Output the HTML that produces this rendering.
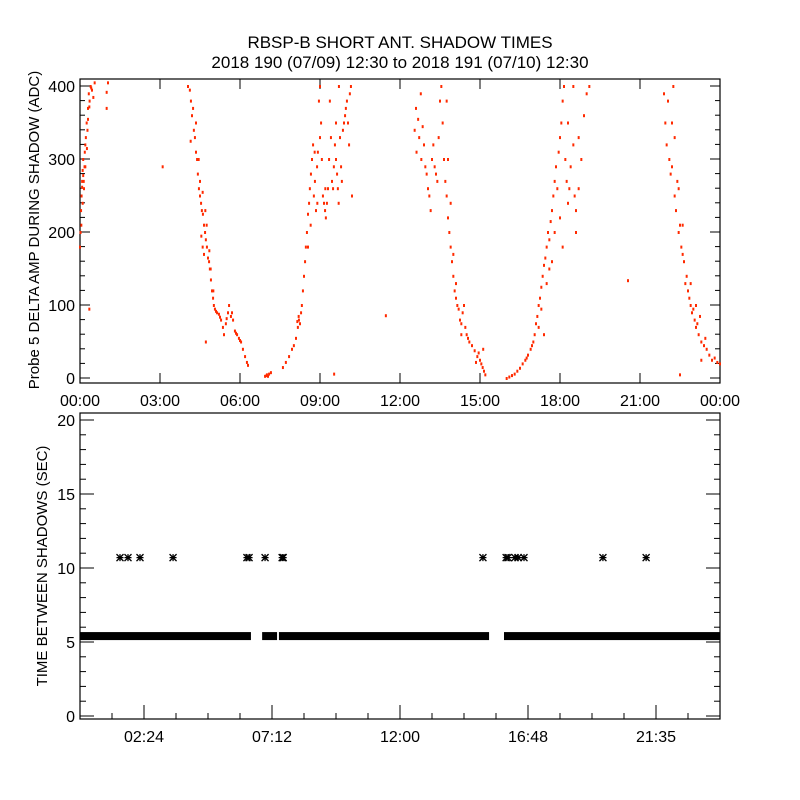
<!DOCTYPE html>
<html><head><meta charset="utf-8"><style>
body{margin:0;background:#fff}
svg{display:block}
text{font-family:"Liberation Sans",sans-serif;fill:#000}
</style></head><body>
<svg id="chart" width="800" height="800" viewBox="0 0 800 800">
<rect width="800" height="800" fill="#fff"/>
<text x="400" y="48" font-size="17" text-anchor="middle">RBSP-B SHORT ANT. SHADOW TIMES</text>
<text x="400" y="68" font-size="17" text-anchor="middle">2018 190 (07/09) 12:30 to 2018 191 (07/10) 12:30</text>
<g id="topPanel"></g>
<g id="botPanel"></g>
</svg>
<script>
// ---- top panel data: [hour, delta amp ADC] ----
const topXTicks = ["00:00","03:00","06:00","09:00","12:00","15:00","18:00","21:00","00:00"];
const topYTicks = [0,100,200,300,400];
const ampPoints = [
[0,180],[0.02,200],[0.04,230],[0.06,250],[0.08,270],[0.1,285],[0.12,300],[0.15,260],[0.18,310],[0.2,290],[0.22,330],[0.25,350],[0.28,340],[0.3,370],[0.33,390],[0.36,380],[0.4,400],[0.45,395],[0.5,385],[0.55,405],[0.05,210],[0.1,240],[0.14,270],[0.17,290],[0.2,320],[0.26,315],[0.3,355],[0.35,372],[0.42,398],[0.08,262],[0.12,278],
[0.35,95],[1.0,392],[1.0,370],[1.05,405],[3.1,290],[4.72,50],[9.53,6],[11.47,86],[20.55,134],[22.5,5],[23.3,25],
[4.05,400],[4.12,395],[4.16,380],[4.2,360],[4.24,370],[4.27,340],[4.31,330],[4.35,310],[4.39,300],[4.42,280],[4.46,260],[4.5,250],[4.54,240],[4.57,230],[4.61,225],[4.65,210],[4.69,200],[4.72,190],[4.76,180],[4.8,165],[4.84,160],[4.87,150],[4.91,135],[4.95,120],[4.99,110],[5.02,100],[5.06,95],[5.14,90],[5.21,88],[5.29,80],[5.36,70],[5.4,60],[5.47,75],[5.55,90],[5.59,100],[5.66,85],[5.74,80],[5.81,65],[5.89,60],[5.96,55],[6.04,50],[6.11,40],[6.19,30],[6.26,22],[6.3,18],
[4.15,325],[4.5,270],[4.6,255],[4.7,230],[4.75,210],[4.55,195],[4.6,180],[4.65,170],[4.85,175],[4.9,150],[5.0,120],[4.35,350],[4.45,300],[5.1,92],[5.25,84],[5.5,82],[5.7,90],[5.85,62],[6.0,52],
[6.94,3],[7.01,5],[7.09,6],[7.16,8],[7.61,15],[7.72,22],[7.84,30],[7.95,40],[8.02,45],[8.1,55],[8.17,70],[8.21,80],[8.25,75],[8.29,90],[8.32,100],[8.36,120],[8.4,140],[8.44,160],[8.47,180],[8.51,200],[8.55,225],[8.59,240],[8.62,260],[8.66,280],[8.7,300],[8.74,320],[8.77,250],[8.81,270],[8.85,230],[8.89,290],[8.92,310],[8.96,380],[9.0,400],[9.04,350],[9.07,300],[9.11,250],[9.15,240],[9.19,230],[9.22,220],[9.26,240],[9.3,260],[9.34,300],[9.37,380],[9.41,330],[9.45,270],[9.49,260],[9.52,290],[9.56,320],[9.6,300],[9.64,280],[9.67,260],[9.71,400],[9.75,330],[9.79,290],[9.82,270],[9.86,340],[9.9,350],[9.94,360],[9.97,370],[10.01,380],[10.05,350],[10.09,320],[10.12,390],[10.16,400],
[8.55,180],[8.65,210],[8.8,310],[8.9,240],[9.0,330],[9.2,260],[9.6,350],[9.7,240],[10.2,250],[8.15,78],[8.2,85],[7.0,4],[7.05,3],
[12.55,340],[12.6,370],[12.62,310],[12.68,355],[12.72,330],[12.78,390],[12.8,300],[12.85,345],[12.9,320],[12.95,290],[13.0,280],[13.05,260],[13.1,250],[13.15,230],[13.2,300],[13.25,320],[13.3,290],[13.35,280],[13.4,270],[13.45,330],[13.5,380],[13.55,400],[13.6,350],[13.65,300],[13.7,270],[13.75,250],[13.8,220],[13.85,200],[13.9,180],[13.95,160],[14.0,140],[14.05,120],[14.1,110],[14.15,100],[14.2,95],[14.25,80],[14.3,75],[14.35,90],[14.4,100],[14.45,70],[14.5,60],[14.55,55],[14.6,50],[14.7,45],[14.8,38],[14.9,30],[15.0,25],[15.05,20],[15.1,15],[15.15,10],[15.12,40],[15.2,5],
[13.75,380],[13.8,300],[13.9,240],[14.0,170],[14.1,130],[14.3,60],[14.85,22],[14.95,35],
[16.0,0],[16.1,2],[16.2,4],[16.3,6],[16.4,10],[16.5,14],[16.6,20],[16.7,25],[16.8,32],[16.9,40],[17.0,50],[17.05,60],[17.1,75],[17.15,85],[17.2,100],[17.25,110],[17.3,125],[17.35,140],[17.4,155],[17.45,165],[17.5,180],[17.55,200],[17.6,190],[17.65,215],[17.7,230],[17.75,250],[17.8,270],[17.85,290],[17.9,260],[17.95,310],[18.0,330],[18.05,350],[18.1,380],[18.15,400],[18.2,300],[18.25,270],[18.3,240],[18.35,260],[18.4,290],[18.5,320],[18.55,250],[18.6,230],[18.7,260],[18.8,300],[18.9,360],[19.0,390],[19.1,400],
[17.3,95],[17.5,130],[17.6,150],[17.8,200],[18.0,220],[18.1,180],[18.3,350],[18.5,400],[18.6,200],[18.7,330],[17.4,60],[16.75,28],[16.95,45],[17.2,70],[17.7,160],
[21.9,390],[21.95,350],[22.0,320],[22.05,380],[22.1,300],[22.15,280],[22.2,350],[22.25,400],[22.3,250],[22.35,230],[22.4,270],[22.45,200],[22.5,210],[22.55,180],[22.6,170],[22.65,160],[22.7,130],[22.75,140],[22.8,120],[22.85,110],[22.9,100],[22.95,90],[23.0,95],[23.05,80],[23.1,70],[23.15,75],[23.2,60],[23.3,50],[23.4,45],[23.5,40],[23.6,32],[23.7,25],[23.8,28],[23.9,22],[24.0,20],
[22.3,330],[22.45,260],[22.6,210],[22.9,130],[23.1,100],[22.2,290],[23.25,85],[23.45,55]
];
// ---- bottom panel data ----
const botXTicks = ["02:24","07:12","12:00","16:48","21:35"];
const botXTickHours = [2.4,7.2,12.0,16.8,21.6];
const botYTicks = [0,5,10,15,20];
const bandValue = 5.4;
const bandStarts = [0,6.83,7.46,15.9];
const bandEnds = [6.41,7.39,15.34,24];
const starHours = [1.5,1.8,2.25,3.49,6.26,6.34,6.94,7.58,7.62,15.11,15.98,16.05,16.31,16.43,16.65,19.61,21.23];
const starValue = 10.7;

const NS="http://www.w3.org/2000/svg";
function mk(parent,tag,attrs){const e=document.createElementNS(NS,tag);for(const k in attrs)e.setAttribute(k,attrs[k]);parent.appendChild(e);return e;}

const X0=80,X1=720;
const tx=h=>X0+h*(X1-X0)/24;
const TY0=79,TY1=383;
const ty=v=>378-v*0.73;
const topG=document.getElementById('topPanel');
let f=mk(topG,'rect',{x:X0,y:TY0,width:X1-X0,height:TY1-TY0,fill:'none',stroke:'#000','stroke-width':1.2});


for(let v=0;v<=400;v+=20){
  const len=(v%100===0)?10:5;
  const y=ty(v);
  mk(topG,'line',{x1:X0,x2:X0+len,y1:y,y2:y,stroke:'#000'});
  mk(topG,'line',{x1:X1,x2:X1-len,y1:y,y2:y,stroke:'#000'});
}
topYTicks.forEach(v=>{
  const t=mk(topG,'text',{x:75,y:ty(v)+6,'font-size':16,'text-anchor':'end'});
  t.textContent=v;
  
  
});
topXTicks.forEach((s,i)=>{
  const x=tx(i*3);
  mk(topG,'line',{x1:x,x2:x,y1:TY1,y2:TY1-10,stroke:'#000'});
  mk(topG,'line',{x1:x,x2:x,y1:TY0,y2:TY0+10,stroke:'#000'});
  const t=mk(topG,'text',{x:x,y:406,'font-size':16,'text-anchor':'middle'});
  t.textContent=s;
  
  
});
let yt=mk(topG,'text',{x:0,y:0,'font-size':15,'text-anchor':'middle',transform:'translate(39,230) rotate(-90)'});
yt.textContent='Probe 5 DELTA AMP DURING SHADOW (ADC)';


ampPoints.forEach(p=>{
  const r=mk(topG,'rect',{x:tx(p[0])-1,y:ty(p[1])-1,width:2,height:3,fill:'#ff2a00'});
  
  
});

const BY0=413,BY1=719;
const by=v=>716-v*14.8;
const botG=document.getElementById('botPanel');
f=mk(botG,'rect',{x:X0,y:BY0,width:X1-X0,height:BY1-BY0,fill:'none',stroke:'#000','stroke-width':1.2});


for(let v=0;v<=20;v++){
  const len=(v%5===0)?14:6;const y=by(v);
  mk(botG,'line',{x1:X0,x2:X0+len,y1:y,y2:y,stroke:'#000'});
  mk(botG,'line',{x1:X1,x2:X1-len,y1:y,y2:y,stroke:'#000'});
}
botYTicks.forEach(v=>{
  const t=mk(botG,'text',{x:75,y:by(v)+6,'font-size':16,'text-anchor':'end'});
  t.textContent=v;
  
  
});
for(let k=1;k<20;k++){
  const h=k*1.2;const x=tx(h);const major=(k%4===2);
  mk(botG,'line',{x1:x,x2:x,y1:BY1,y2:BY1-(major?14:6),stroke:'#000'});
}
botXTicks.forEach((s,i)=>{
  const t=mk(botG,'text',{x:tx(botXTickHours[i]),y:742,'font-size':16,'text-anchor':'middle'});
  t.textContent=s;
  
  
});
yt=mk(botG,'text',{x:0,y:0,'font-size':15,'text-anchor':'middle',transform:'translate(47,566) rotate(-90)'});
yt.textContent='TIME BETWEEN SHADOWS (SEC)';


bandStarts.forEach((s,i)=>{
  const r=mk(botG,'rect',{x:tx(s),y:by(bandValue)-4,width:tx(bandEnds[i])-tx(s),height:8,fill:'#000'});
  
  
});
starHours.forEach(h=>{
  const cx=tx(h),cy=by(starValue),s=3.5;
  const g=mk(botG,'path',{d:`M${cx-s},${cy}H${cx+s}M${cx},${cy-s}V${cy+s}M${cx-s},${cy-s}L${cx+s},${cy+s}M${cx-s},${cy+s}L${cx+s},${cy-s}`,stroke:'#000','stroke-width':1.3,fill:'none'});
  
  
});
</script>
</body></html>
